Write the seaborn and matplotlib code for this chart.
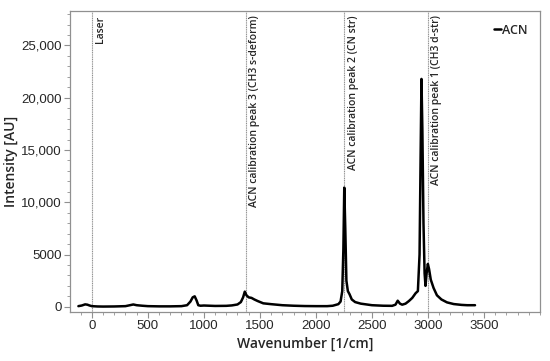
import matplotlib
matplotlib.use("Agg")
import matplotlib.pyplot as plt
import matplotlib.ticker as mticker
import matplotlib.transforms as mtransforms
import seaborn as sns
import pandas as pd

# ---- data ----
wavenumber = [-120, -90, -60, -40, -20, 0, 50, 100, 200, 300, 340, 370, 400, 450,
              500, 600, 700, 800, 850, 880, 900, 918, 935, 950, 970, 1000, 1050,
              1100, 1200, 1250, 1300, 1330, 1350, 1365, 1380, 1400, 1425, 1450,
              1480, 1530, 1600, 1700, 1800, 1900, 2000, 2100, 2150, 2200, 2220,
              2235, 2245, 2253, 2262, 2272, 2285, 2300, 2320, 2350, 2400, 2500,
              2600, 2680, 2710, 2730, 2750, 2770, 2800, 2830, 2860, 2890, 2910,
              2925, 2935, 2942, 2950, 2960, 2970, 2978, 2988, 2999, 3010, 3025,
              3050, 3080, 3120, 3170, 3230, 3300, 3350, 3420]
intensity = [60, 120, 230, 200, 120, 60, 30, 20, 30, 60, 150, 220, 150, 100,
             60, 40, 40, 60, 150, 500, 900, 1000, 600, 150, 100, 120, 100,
             80, 90, 130, 220, 450, 900, 1450, 1100, 900, 850, 700,
             550, 330, 250, 150, 100, 70, 60, 60, 100, 250, 500,
             1500, 5500, 11400, 7500, 2500, 1500, 1200, 700, 450, 300, 150,
             100, 90, 200, 580, 300, 200, 300, 550, 850, 1300, 1500,
             5000, 15000, 21800, 17000, 8000, 3200, 2000, 3200, 4100, 3600, 2600,
             1800, 1100, 700, 420, 260, 180, 150, 150]

marker_pos = [0, 1376, 2253, 2999]
marker_labels = ["Laser", "ACN calibration peak 3 (CH3 s-deform)",
                 "ACN calibration peak 2 (CN str)", "ACN calibration peak 1 (CH3 d-str)"]
series_name = "ACN"

df = pd.DataFrame({"Wavenumber": wavenumber, "Intensity": intensity})

sns.set_style("white")
plt.rcParams["font.family"] = ["Liberation Sans", "DejaVu Sans"]

fig = plt.figure(figsize=(5.5, 3.61), dpi=100)
ax = fig.add_axes([70 / 550, 49 / 361, 470 / 550, 301 / 361])

sns.lineplot(data=df, x="Wavenumber", y="Intensity", color="black", linewidth=1.8,
             label=series_name, ax=ax, sort=False)

ax.set_xlim(-195, 4000)
ax.set_ylim(-500, 28300)

grey = "#909090"
trans = mtransforms.blended_transform_factory(ax.transData, ax.transAxes)
for pos, lab in zip(marker_pos, marker_labels):
    ax.axvline(pos, color=grey, linewidth=0.8, linestyle=(0, (1, 0.6)), zorder=1)
    ax.text(pos + 30, 0.985, lab, rotation=90, ha="left", va="top", transform=trans,
            fontsize=7.5, family=["Open Sans", "DejaVu Sans"],
            fontweight="semibold")

ax.set_xticks([0, 500, 1000, 1500, 2000, 2500, 3000, 3500])
ax.xaxis.set_minor_locator(mticker.MultipleLocator(100))
ax.yaxis.set_major_locator(mticker.FixedLocator([0, 5000, 10000, 15000, 20000, 25000]))
ax.yaxis.set_minor_locator(mticker.MultipleLocator(1000))


def yfmt(v, p):
    v = int(round(v))
    return f"{v:,}" if v >= 10000 else f"{v}"


ax.yaxis.set_major_formatter(mticker.FuncFormatter(yfmt))

ax.tick_params(axis="both", which="major", direction="out", length=4, width=0.8,
               color=grey, labelsize=9.5, pad=2, bottom=True, left=True)
ax.tick_params(axis="both", which="minor", direction="out", length=2, width=0.6,
               color=grey, bottom=True, left=True)
for s in ax.spines.values():
    s.set_color(grey)
    s.set_linewidth(0.9)

ax.set_xlabel("Wavenumber [1/cm]", fontsize=10, family=["Open Sans", "DejaVu Sans"],
              fontweight="semibold", labelpad=3)
ax.set_ylabel("Intensity [AU]", fontsize=10, family=["Open Sans", "DejaVu Sans"],
              fontweight="semibold", labelpad=2)

leg = ax.legend(loc="upper right", frameon=False, handlelength=0.5, handletextpad=0.1,
                borderaxespad=0.6, prop={"family": ["Open Sans", "DejaVu Sans"],
                                          "size": 9, "weight": "semibold"})

fig.savefig("out.png", dpi=100)
